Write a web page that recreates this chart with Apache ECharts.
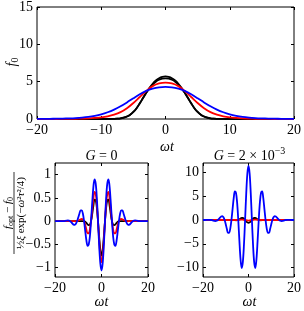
<!DOCTYPE html>
<html><head><meta charset="utf-8">
<script src="https://cdn.jsdelivr.net/npm/echarts@6/dist/echarts.min.js"></script>
<style>html,body{margin:0;padding:0;background:#fff}#c{width:304px;height:311px}</style>
</head><body><div id="c"></div>
<script>
// ---- top panel: f0 ----
var tTop = [-20,-19,-18,-17,-16,-15,-14,-13,-12,-11,-10,-9,-8,-7,-6,-5,-4,-3,-2,-1,0,1,2,3,4,5,6,7,8,9,10,11,12,13,14,15,16,17,18,19,20];
var f0Blue = [0.01,0.015,0.025,0.04,0.06,0.09,0.13,0.19,0.28,0.42,0.62,0.9,1.26,1.7,2.22,2.78,3.32,3.76,4.06,4.24,4.3,4.24,4.06,3.76,3.32,2.78,2.22,1.7,1.26,0.9,0.62,0.42,0.28,0.19,0.13,0.09,0.06,0.04,0.025,0.015,0.01];
var f0Red = [0,0,0,0,0.01,0.02,0.03,0.05,0.08,0.14,0.22,0.36,0.58,0.92,1.45,2.15,2.95,3.75,4.4,4.76,4.88,4.76,4.4,3.75,2.95,2.15,1.45,0.92,0.58,0.36,0.22,0.14,0.08,0.05,0.03,0.02,0.01,0,0,0,0];
var tBlack = [-20,-15,-10,-9,-8,-7.5,-7,-6.5,-6,-5.5,-5,-4.5,-4,-3.5,-3,-2.5,-2,-1.5,-1,-0.5,0,0.5,1,1.5,2,2.5,3,3.5,4,4.5,5,5.5,6,6.5,7,7.5,8,9,10,15,20];
var f0Black1 = [0,0,0,0.005,0.02,0.04,0.08,0.17,0.33,0.58,0.95,1.45,2.1,2.8,3.5,4.15,4.72,5.15,5.46,5.64,5.7,5.64,5.46,5.15,4.72,4.15,3.5,2.8,2.1,1.45,0.95,0.58,0.33,0.17,0.08,0.04,0.02,0.005,0,0,0];
var f0Black2 = [0,0,0,0.005,0.02,0.04,0.08,0.17,0.33,0.58,0.95,1.45,2.1,2.8,3.5,4.1,4.62,5.0,5.25,5.4,5.45,5.4,5.25,5.0,4.62,4.1,3.5,2.8,2.1,1.45,0.95,0.58,0.33,0.17,0.08,0.04,0.02,0.005,0,0,0];

// ---- bottom panels: normalised difference ----
var tBot = [-20,-19,-18,-17,-16.5,-16,-15.5,-15,-14.5,-14,-13.5,-13,-12.5,-12,-11.5,-11,-10.5,-10,-9.5,-9,-8.5,-8,-7.5,-7,-6.5,-6,-5.5,-5,-4.5,-4,-3.5,-3,-2.5,-2,-1.5,-1,-0.5,0,0.5,1,1.5,2,2.5,3,3.5,4,4.5,5,5.5,6,6.5,7,7.5,8,8.5,9,9.5,10,10.5,11,11.5,12,12.5,13,13.5,14,14.5,15,15.5,16,16.5,17,18,19,20];
var g0Blue = [0,0,0,0.001,0.002,0.003,0.007,0.012,0.016,0.012,0,-0.023,-0.052,-0.075,-0.078,-0.055,0,0.08,0.16,0.23,0.23,0.16,0,-0.21,-0.41,-0.53,-0.5,-0.33,0,0.39,0.73,0.9,0.81,0.49,0,-0.52,-0.91,-1.06,-0.91,-0.52,0,0.49,0.81,0.9,0.73,0.39,0,-0.33,-0.5,-0.53,-0.41,-0.21,0,0.16,0.23,0.23,0.16,0.08,0,-0.055,-0.078,-0.075,-0.052,-0.023,0,0.012,0.016,0.012,0.007,0.003,0.002,0.001,0,0,0];
var g0Red = [0,0,0,0,0,0,0,0,0,0,0,0,0,0,0,-0.005,0,0.01,0.026,0.04,0.047,0.035,0,-0.075,-0.18,-0.26,-0.26,-0.175,0,0.24,0.48,0.63,0.59,0.37,0,-0.415,-0.745,-0.88,-0.745,-0.415,0,0.37,0.59,0.63,0.48,0.24,0,-0.175,-0.26,-0.26,-0.18,-0.075,0,0.035,0.047,0.04,0.026,0.01,0,-0.005,0,0,0,0,0,0,0,0,0,0,0,0,0,0,0];
var g0Black = [0,0,0,0,0,0,0,0,0,0,0,0,0,0,0,0,0,0,0,0,0,0,0,-0.01,-0.038,-0.07,-0.085,-0.075,0,0.15,0.33,0.46,0.45,0.29,0,-0.34,-0.62,-0.74,-0.62,-0.34,0,0.29,0.45,0.46,0.33,0.15,0,-0.075,-0.085,-0.07,-0.038,-0.01,0,0,0,0,0,0,0,0,0,0,0,0,0,0,0,0,0,0,0,0,0,0,0];
var g2Blue = [0,0,0.02,0.025,0,-0.05,-0.12,-0.2,-0.22,-0.15,0,0.24,0.52,0.75,0.82,0.575,0,-0.9,-1.91,-2.7,-2.68,-1.75,0,2.3,4.59,6.0,5.72,3.65,0,-4.4,-8.23,-10.1,-8.92,-5.25,0,5.55,9.79,11.4,9.79,5.55,0,-5.25,-8.92,-10.1,-8.23,-4.4,0,3.65,5.72,6.0,4.59,2.3,0,-1.75,-2.68,-2.7,-1.91,-0.9,0,0.575,0.82,0.75,0.52,0.24,0,-0.15,-0.22,-0.2,-0.12,-0.05,0,0.025,0.02,0,0];
var g2Red = [0,0,0,0,0,0,0,0,0,0,0,0,0,0,0,0,0,0,0,0,0,0,0,0,0,0,0,0,0,0.02,0.06,0.09,0.07,0.03,0,-0.05,-0.1,-0.12,-0.1,-0.05,0,0.03,0.07,0.09,0.06,0.02,0,0,0,0,0,0,0,0,0,0,0,0,0,0,0,0,0,0,0,0,0,0,0,0,0,0,0,0,0];
var g2Black = [0,0,0,0,0,0,0,0,0,0,0,0,0,0,0,0,0,0,0,0,0,0,0,0,-0.01,-0.03,-0.05,-0.04,0.03,0.15,0.3,0.42,0.42,0.3,0.05,-0.25,-0.5,-0.6,-0.5,-0.25,0.05,0.3,0.42,0.42,0.3,0.15,0.03,-0.04,-0.05,-0.03,-0.01,0,0,0,0,0,0,0,0,0,0,0,0,0,0,0,0,0,0,0,0,0,0,0,0];

var topXTicks = [-20,-10,0,10,20];
var topYTicks = [0,5,10,15];
var botXTicks = [-20,0,20];
var leftYTicks = [-1,-0.5,0,0.5,1];
var rightYTicks = [-10,-5,0,5,10];

function pairs(xs, ys){ return xs.map(function(x,i){ return [x, ys[i]]; }); }
function lab(v){ return String(v).replace('-', '\u2212'); }

var FONT = 'Liberation Serif';
var chart = echarts.init(document.getElementById('c'), null, {renderer:'canvas'});

function xAx(grid, min, max, ticks, top){
  return {type:'value', gridIndex:grid, min:min, max:max, position: top?'top':'bottom',
    axisLine:{show:false, onZero:false}, splitLine:{show:false},
    axisTick:{show:true, inside:true, length:3, lineStyle:{color:'#000', width:1}, customValues: ticks},
    axisLabel:{show:!top, customValues: ticks, formatter: lab, color:'#000', fontFamily:FONT, fontSize:14, margin:4}};
}
function yAx(grid, min, max, ticks, right){
  return {type:'value', gridIndex:grid, min:min, max:max, position: right?'right':'left',
    axisLine:{show:false, onZero:false}, splitLine:{show:false},
    axisTick:{show:true, inside:true, length:3, lineStyle:{color:'#000', width:1}, customValues: ticks},
    axisLabel:{show:!right, customValues: ticks, formatter: lab, color:'#000', fontFamily:FONT, fontSize:14, margin:4}};
}
function line(xi, yi, data, color){
  return {type:'line', xAxisIndex:xi, yAxisIndex:yi, data:data, smooth:0.35, symbol:'none',
    lineStyle:{color:color, width:1.8}, animation:false, silent:true};
}

var rich = {
  i:{fontFamily:FONT, fontStyle:'italic', fontSize:14, color:'#000'},
  n:{fontFamily:FONT, fontSize:14, color:'#000'},
  sup:{fontFamily:FONT, fontSize:10, color:'#000', padding:[0,0,9,0]},
  sub:{fontFamily:FONT, fontSize:10, color:'#000', padding:[7,0,0,0]},
  si:{fontFamily:FONT, fontStyle:'italic', fontSize:11, color:'#000'},
  sn:{fontFamily:FONT, fontSize:11, color:'#000'},
  ss:{fontFamily:FONT, fontSize:8, color:'#000', padding:[6,0,0,0]}
};
function txt(x, y, t, rot){
  return {type:'text', x:x, y:y, rotation: rot||0, silent:true,
    style:{text:t, rich:rich, align:'center', verticalAlign:'middle', fill:'#000'}};
}

var option = {
  backgroundColor:'#fff',
  animation:false,
  grid:[
    {left:37, top:6, width:260, height:113, show:true, borderColor:'#000', borderWidth:1, backgroundColor:'transparent'},
    {left:55, top:163, width:93, height:114, show:true, borderColor:'#000', borderWidth:1, backgroundColor:'transparent'},
    {left:203, top:163, width:93, height:114, show:true, borderColor:'#000', borderWidth:1, backgroundColor:'transparent'}
  ],
  xAxis:[
    xAx(0,-20,20,topXTicks,false), xAx(0,-20,20,topXTicks,true),
    xAx(1,-20,20,botXTicks,false), xAx(1,-20,20,botXTicks,true),
    xAx(2,-20,20,botXTicks,false), xAx(2,-20,20,botXTicks,true)
  ],
  yAxis:[
    yAx(0,0,15,topYTicks,false), yAx(0,0,15,topYTicks,true),
    yAx(1,-1.2,1.25,leftYTicks,false), yAx(1,-1.2,1.25,leftYTicks,true),
    yAx(2,-12,12,rightYTicks,false), yAx(2,-12,12,rightYTicks,true)
  ],
  series:[
    line(0,0,pairs(tBlack,f0Black1),'#000000'),
    line(0,0,pairs(tBlack,f0Black2),'#000000'),
    line(0,0,pairs(tTop,f0Red),'#ff0000'),
    line(0,0,pairs(tTop,f0Blue),'#0000ff'),
    line(2,2,pairs(tBot,g0Black),'#000000'),
    line(2,2,pairs(tBot,g0Red),'#ff0000'),
    line(2,2,pairs(tBot,g0Blue),'#0000ff'),
    line(4,4,pairs(tBot,g2Black),'#000000'),
    line(4,4,pairs(tBot,g2Red),'#ff0000'),
    line(4,4,pairs(tBot,g2Blue),'#0000ff')
  ],
  graphic:[
    txt(12, 62, '{i|f}{sub|0}', Math.PI/2),
    txt(167, 147, '{i|ωt}'),
    txt(101.5, 302, '{i|ωt}'),
    txt(249.5, 302, '{i|ωt}'),
    txt(101.5, 156, '{i|G}{n| = 0}'),
    txt(249.5, 156, '{i|G}{n| = 2 × 10}{sup|−3}'),
    {type:'group', x:14, y:213, rotation:Math.PI/2, silent:true, children:[
      {type:'text', x:0, y:-6, style:{text:'{si|f}{ss|opt}{sn| − }{si|f}{ss|0}', rich:rich, align:'center', verticalAlign:'middle'}},
      {type:'line', shape:{x1:-41, y1:0, x2:41, y2:0}, style:{stroke:'#000', lineWidth:0.8}},
      {type:'text', x:0, y:7, style:{text:'{sn|½}{si|ξ}{sn| exp(−}{si|ω}{sn|²}{si|τ}{sn|²/4)}', rich:rich, align:'center', verticalAlign:'middle'}}
    ]}
  ]
};
chart.setOption(option);
</script></body></html>
